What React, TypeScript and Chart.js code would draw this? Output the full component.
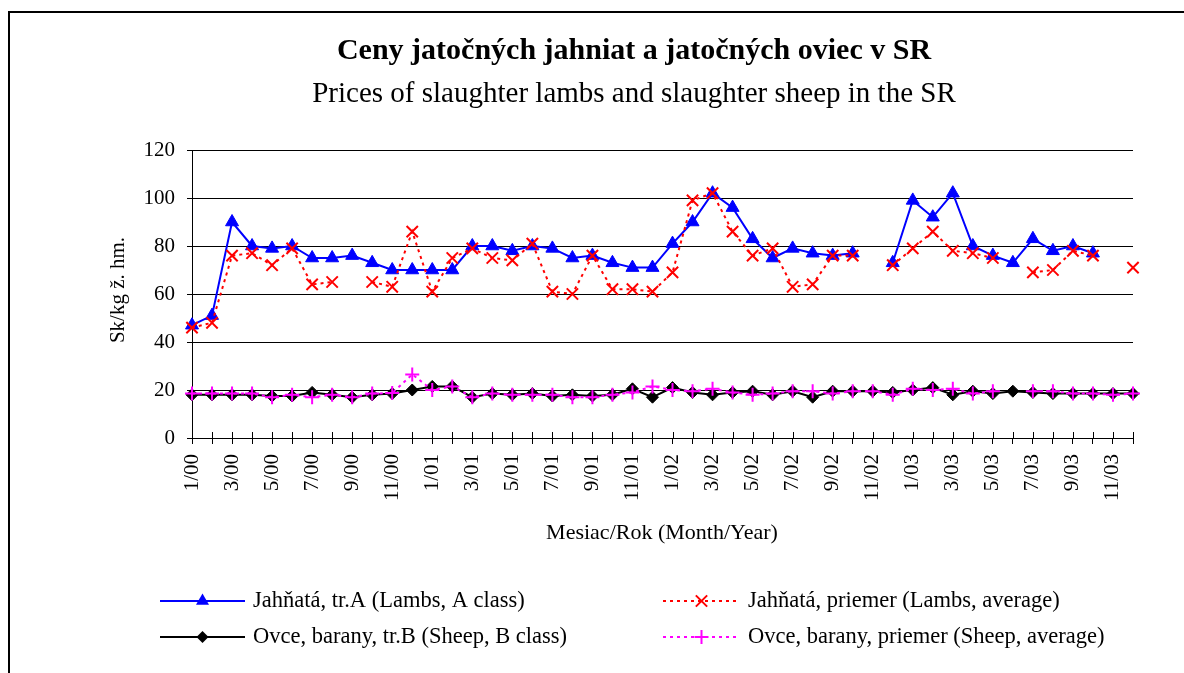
import React, { useEffect, useRef } from "react";
import { Chart, registerables } from "chart.js";

Chart.register(...registerables);

const monthLabels = [
  "1/00", "2/00", "3/00", "4/00", "5/00", "6/00", "7/00", "8/00", "9/00", "10/00", "11/00", "12/00",
  "1/01", "2/01", "3/01", "4/01", "5/01", "6/01", "7/01", "8/01", "9/01", "10/01", "11/01", "12/01",
  "1/02", "2/02", "3/02", "4/02", "5/02", "6/02", "7/02", "8/02", "9/02", "10/02", "11/02", "12/02",
  "1/03", "2/03", "3/03", "4/03", "5/03", "6/03", "7/03", "8/03", "9/03", "10/03", "11/03", "12/03",
];

const lambsA = [
  47, 51, 90, 80, 79, 80, 75, 75, 76, 73, 70, 70,
  70, 70, 80, 80, 78, 80, 79, 75, 76, 73, 71, 71,
  81, 90, 102, 96, 83, 75, 79, 77, 76, 77, null, 73,
  99, 92, 102, 80, 76, 73, 83, 78, 80, 77, null, null,
];

const lambsAvg = [
  46, 48, 76, 77, 72, 79, 64, 65, null, 65, 63, 86,
  61, 75, 79, 75, 74, 81, 61, 60, 76, 62, 62, 61,
  69, 99, 102, 86, 76, 79, 63, 64, 76, 76, null, 72,
  79, 86, 78, 77, 75, null, 69, 70, 78, 76, null, 71,
];

const sheepB = [
  18, 18, 18, 18, 17.5, 17.5, 19, 18, 17, 18, 18.5, 20,
  21.5, 21.5, 17, 18.5, 18, 18.5, 17.5, 18, 17.5, 18, 20.5, 17,
  21, 19, 18, 19, 19.5, 18, 19.5, 17, 19.5, 19.5, 19.5, 19,
  20, 21, 18, 19.5, 18.5, 19.5, 19, 18.5, 18.5, 18.5, 18.5, 18.5,
];

const sheepAvg = [
  18.5, 18.5, 18.5, 18.5, 17, 18, 17, 18, 17, 18.5, 18.7, 26.5,
  20, 21.5, 17, 18.5, 18, 18, 18, 17, 17, 18, 19, 21.5,
  20, 19.5, 20.5, 19, 18, 18.5, 19.5, 19.5, 18.5, 19.5, 19.5, 18,
  20.5, 20, 20.5, 18.5, 19.5, null, 19.5, 19.5, 18.5, 18.5, 18, 18.5,
];

const seriesNames = [
  "Jahňatá, tr.A (Lambs, A class)",
  "Jahňatá, priemer (Lambs, average)",
  "Ovce, barany, tr.B (Sheep, B class)",
  "Ovce, barany, priemer (Sheep, average)",
];

const titleText = "Ceny jatočných jahniat a jatočných oviec v SR";
const subtitleText = "Prices of slaughter lambs and slaughter sheep in the SR";
const yAxisTitle = "Sk/kg ž. hm.";
const xAxisTitle = "Mesiac/Rok (Month/Year)";

const FONT = "'Liberation Serif', 'Times New Roman', serif";

function drawMarker(ctx: CanvasRenderingContext2D, style: string, x: number, y: number, r: number, color: string) {
  ctx.save();
  ctx.strokeStyle = color;
  ctx.fillStyle = color;
  ctx.setLineDash([]);
  ctx.beginPath();
  if (style === "triangle") {
    ctx.moveTo(x, y - r);
    ctx.lineTo(x + 0.866 * r, y + 0.5 * r);
    ctx.lineTo(x - 0.866 * r, y + 0.5 * r);
    ctx.closePath();
    ctx.fill();
  } else if (style === "rectRot") {
    ctx.moveTo(x - r, y);
    ctx.lineTo(x, y - r);
    ctx.lineTo(x + r, y);
    ctx.lineTo(x, y + r);
    ctx.closePath();
    ctx.fill();
  } else if (style === "crossRot") {
    const o = r * Math.SQRT1_2;
    ctx.lineWidth = 2;
    ctx.moveTo(x - o, y - o);
    ctx.lineTo(x + o, y + o);
    ctx.moveTo(x - o, y + o);
    ctx.lineTo(x + o, y - o);
    ctx.stroke();
  } else if (style === "cross") {
    ctx.lineWidth = 2;
    ctx.moveTo(x - r, y);
    ctx.lineTo(x + r, y);
    ctx.moveTo(x, y - r);
    ctx.lineTo(x, y + r);
    ctx.stroke();
  }
  ctx.restore();
}

export default function App() {
  const ref = useRef<HTMLCanvasElement>(null);

  useEffect(() => {
    const canvas = ref.current;
    if (!canvas) return;

    const overlay = {
      id: "overlay",
      afterDraw(chart: any) {
        const ctx: CanvasRenderingContext2D = chart.ctx;
        ctx.save();
        // outer frame
        ctx.strokeStyle = "#000";
        ctx.lineWidth = 2;
        ctx.setLineDash([]);
        ctx.beginPath();
        ctx.moveTo(9, 680);
        ctx.lineTo(9, 12);
        ctx.lineTo(1190, 12);
        ctx.stroke();

        // titles
        ctx.fillStyle = "#000";
        ctx.textAlign = "center";
        ctx.textBaseline = "alphabetic";
        ctx.font = `bold 30px ${FONT}`;
        ctx.fillText(titleText, 634, 59);
        ctx.font = `29px ${FONT}`;
        ctx.fillText(subtitleText, 634, 102);

        // axis titles
        ctx.font = `22px ${FONT}`;
        ctx.textBaseline = "middle";
        ctx.fillText(xAxisTitle, 662, 533);
        ctx.save();
        ctx.translate(118, 290);
        ctx.rotate(-Math.PI / 2);
        ctx.font = `21px ${FONT}`;
        ctx.fillText(yAxisTitle, 0, 0);
        ctx.restore();

        // upper halves of x tick marks
        const xs = chart.scales.x;
        const bottom = chart.chartArea.bottom;
        ctx.lineWidth = 1;
        ctx.strokeStyle = "#000";
        ctx.beginPath();
        for (let i = 0; i < monthLabels.length; i++) {
          const px = Math.round(xs.getPixelForTick(i)) + 0.5;
          ctx.moveTo(px, bottom - 6);
          ctx.lineTo(px, bottom);
        }
        ctx.stroke();

        // legend
        const items = [
          { ds: 0, x0: 160, x1: 245, y: 601, tx: 253 },
          { ds: 1, x0: 663, x1: 740, y: 601, tx: 748 },
          { ds: 2, x0: 160, x1: 245, y: 637, tx: 253 },
          { ds: 3, x0: 663, x1: 740, y: 637, tx: 748 },
        ];
        ctx.font = `22.5px ${FONT}`;
        ctx.textAlign = "left";
        ctx.textBaseline = "middle";
        items.forEach((it) => {
          const d: any = chart.data.datasets[it.ds];
          ctx.save();
          ctx.strokeStyle = d.borderColor;
          ctx.lineWidth = d.borderWidth;
          ctx.setLineDash(d.borderDash || []);
          ctx.beginPath();
          ctx.moveTo(it.x0, it.y);
          ctx.lineTo(it.x1, it.y);
          ctx.stroke();
          ctx.restore();
          drawMarker(ctx, d.pointStyle, (it.x0 + it.x1) / 2, it.y, d.pointRadius, d.pointBorderColor);
          ctx.fillStyle = "#000";
          ctx.fillText(d.label, it.tx, it.y);
        });
        ctx.restore();
      },
    };

    const chart = new Chart(canvas, {
      type: "line",
      data: {
        labels: monthLabels,
        datasets: [
          {
            label: seriesNames[0],
            data: lambsA,
            borderColor: "#0000FF",
            backgroundColor: "#0000FF",
            borderWidth: 2,
            pointStyle: "triangle",
            pointRadius: 7.5,
            pointHoverRadius: 7.5,
            pointBackgroundColor: "#0000FF",
            pointBorderColor: "#0000FF",
            pointBorderWidth: 1,
            tension: 0,
            spanGaps: false,
            order: 4,
          },
          {
            label: seriesNames[1],
            data: lambsAvg,
            borderColor: "#FF0000",
            backgroundColor: "#FF0000",
            borderWidth: 2,
            borderDash: [3, 4],
            pointStyle: "crossRot",
            pointRadius: 8,
            pointHoverRadius: 8,
            pointBackgroundColor: "#FF0000",
            pointBorderColor: "#FF0000",
            pointBorderWidth: 2,
            tension: 0,
            spanGaps: false,
            order: 3,
          },
          {
            label: seriesNames[2],
            data: sheepB,
            borderColor: "#000000",
            backgroundColor: "#000000",
            borderWidth: 2,
            pointStyle: "rectRot",
            pointRadius: 6,
            pointHoverRadius: 6,
            pointBackgroundColor: "#000000",
            pointBorderColor: "#000000",
            pointBorderWidth: 1,
            tension: 0,
            spanGaps: false,
            order: 2,
          },
          {
            label: seriesNames[3],
            data: sheepAvg,
            borderColor: "#FF00FF",
            backgroundColor: "#FF00FF",
            borderWidth: 2,
            borderDash: [3, 4],
            pointStyle: "cross",
            pointRadius: 7,
            pointHoverRadius: 7,
            pointBackgroundColor: "#FF00FF",
            pointBorderColor: "#FF00FF",
            pointBorderWidth: 2,
            tension: 0,
            spanGaps: false,
            order: 1,
          },
        ],
      },
      options: {
        responsive: false,
        devicePixelRatio: 1,
        animation: false,
        events: [],
        layout: { padding: { top: 150, right: 51, bottom: 0, left: 0 } },
        plugins: {
          legend: { display: false },
          title: { display: false },
          tooltip: { enabled: false },
        },
        scales: {
          x: {
            type: "category",
            offset: false,
            grid: {
              display: true,
              drawOnChartArea: false,
              drawTicks: true,
              tickLength: 6,
              color: "#000",
              lineWidth: 1,
            },
            border: { display: true, color: "#000", width: 1 },
            ticks: {
              autoSkip: false,
              maxRotation: 90,
              minRotation: 90,
              padding: 10,
              color: "#000",
              font: { family: FONT, size: 21 },
              callback: (_v: any, i: number) => (i % 2 === 0 ? monthLabels[i] : ""),
            },
            afterFit: (s: any) => {
              s.height = 235;
            },
          },
          y: {
            min: 0,
            max: 120,
            grid: { color: "#000", lineWidth: 1, tickLength: 5, drawTicks: true },
            border: { display: true, color: "#000", width: 1 },
            ticks: {
              stepSize: 20,
              padding: 12,
              color: "#000",
              font: { family: FONT, size: 21 },
            },
            afterFit: (s: any) => {
              s.width = 192;
            },
          },
        },
      },
      plugins: [overlay],
    });

    return () => chart.destroy();
  }, []);

  return (
    <div style={{ position: "fixed", left: 0, top: 0, width: 1184, height: 673, background: "#fff" }}>
      <canvas ref={ref} width={1184} height={673} style={{ display: "block", width: 1184, height: 673 }} />
    </div>
  );
}
